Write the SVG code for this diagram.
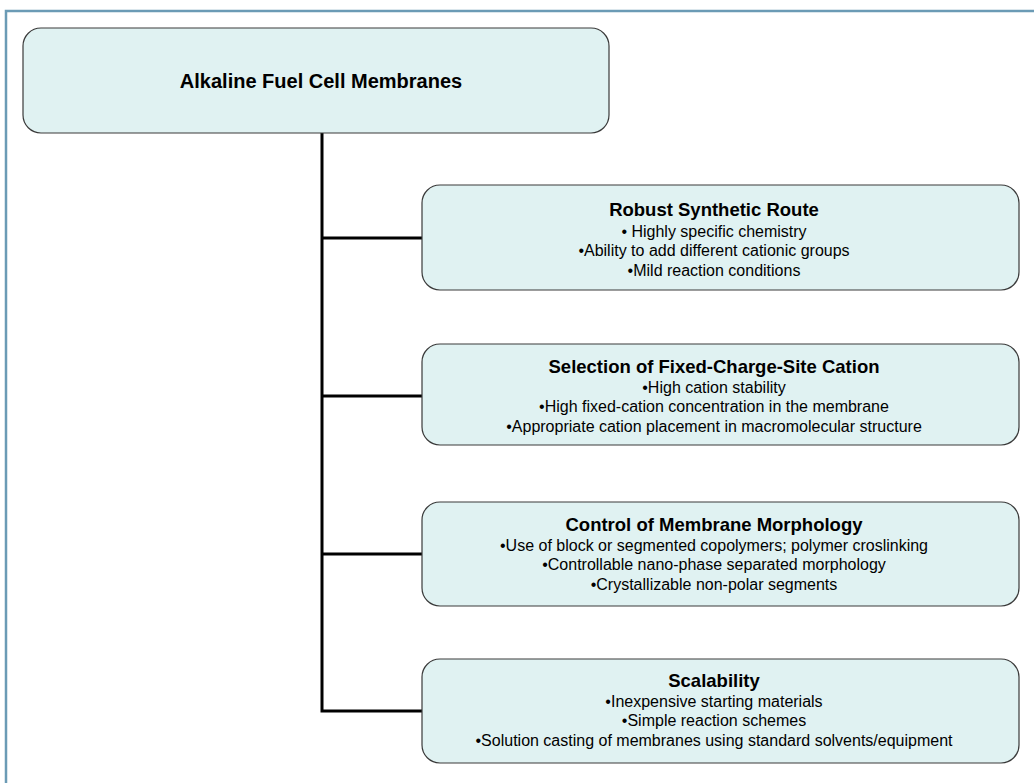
<svg xmlns="http://www.w3.org/2000/svg" width="1034" height="783" viewBox="0 0 1034 783">
<style>
.box{fill:#e0f2f2;stroke:#3a3a3a;stroke-width:1.2}
.t{font-family:"Liberation Sans",Arial,sans-serif;font-weight:bold;font-size:18.5px;fill:#000;text-anchor:middle}
.b{font-family:"Liberation Sans",Arial,sans-serif;font-size:16px;fill:#000;text-anchor:middle}
.c{fill:none;stroke:#000;stroke-width:3}
</style>
<rect x="0" y="0" width="1034" height="783" fill="#fff"/>
<rect x="6" y="11" width="1040" height="790" fill="none" stroke="#6b9bb5" stroke-width="2.5"/>
<g id="connectors">
<path class="c" d="M322,133 V711 H422"/>
<path class="c" d="M322,238 H422"/>
<path class="c" d="M322,396 H422"/>
<path class="c" d="M322,554 H422"/>
</g>
<g id="root">
<rect class="box" x="23" y="28" width="586" height="105" rx="18"/>
<text class="t" x="321" y="88" style="font-size:20px">Alkaline Fuel Cell Membranes</text>
</g>
<g id="n1">
<rect class="box" x="422" y="185" width="597" height="105" rx="18"/>
<text class="t" x="714" y="216">Robust Synthetic Route</text>
<text class="b" x="714" y="237">• Highly specific chemistry</text>
<text class="b" x="714" y="256">•Ability to add different cationic groups</text>
<text class="b" x="714" y="276">•Mild reaction conditions</text>
</g>
<g id="n2">
<rect class="box" x="422" y="344" width="597" height="101" rx="18"/>
<text class="t" x="714" y="373">Selection of Fixed-Charge-Site Cation</text>
<text class="b" x="714" y="393">•High cation stability</text>
<text class="b" x="714" y="412">•High fixed-cation concentration in the membrane</text>
<text class="b" x="714" y="432">•Appropriate cation placement in macromolecular structure</text>
</g>
<g id="n3">
<rect class="box" x="422" y="502" width="597" height="104" rx="18"/>
<text class="t" x="714" y="531">Control of Membrane Morphology</text>
<text class="b" x="714" y="551">•Use of block or segmented copolymers; polymer croslinking</text>
<text class="b" x="714" y="570">•Controllable nano-phase separated morphology</text>
<text class="b" x="714" y="590">•Crystallizable non-polar segments</text>
</g>
<g id="n4">
<rect class="box" x="422" y="659" width="597" height="104" rx="18"/>
<text class="t" x="714" y="687">Scalability</text>
<text class="b" x="714" y="707">•Inexpensive starting materials</text>
<text class="b" x="714" y="726">•Simple reaction schemes</text>
<text class="b" x="714" y="746">•Solution casting of membranes using standard solvents/equipment</text>
</g>
</svg>
